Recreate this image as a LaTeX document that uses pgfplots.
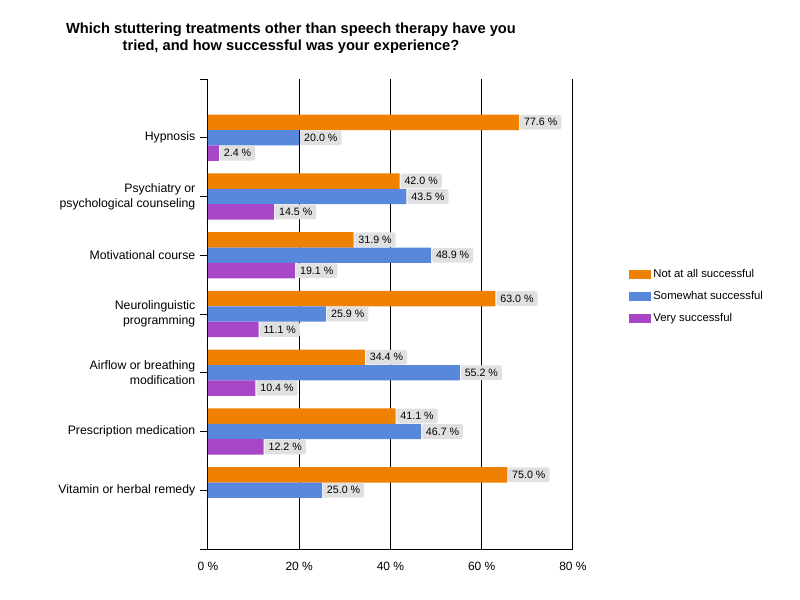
\documentclass[border=0pt]{standalone}
\usepackage{pgfplots}
\usepackage{pgfplotstable}
\pgfplotsset{compat=1.18}
\usepackage{fontspec}
\setmainfont{Liberation Sans}
\definecolor{cor}{RGB}{239,128,0}
\definecolor{cbl}{RGB}{88,136,220}
\definecolor{cpu}{RGB}{168,70,200}
\definecolor{lbl}{RGB}{224,224,224}

\pgfplotstableread{
y x lab
7 68.2 77.6
6 42.0 42.0
5 31.9 31.9
4 63.0 63.0
3 34.4 34.4
2 41.1 41.1
1 65.6 75.0
}\tnot
\pgfplotstableread{
y x lab
7 20.0 20.0
6 43.5 43.5
5 48.9 48.9
4 25.9 25.9
3 55.2 55.2
2 46.7 46.7
1 25.0 25.0
}\tsome
\pgfplotstableread{
y x lab
7 2.4 2.4
6 14.5 14.5
5 19.1 19.1
4 11.1 11.1
3 10.4 10.4
2 12.2 12.2
}\tvery

\begin{document}
\begin{tikzpicture}
\useasboundingbox (0,0) rectangle (600pt,450pt);
\node[align=center, font=\bfseries\fontsize{11}{12.75}\selectfont] at (218.25pt,421.4pt)
  {Which stuttering treatments other than speech therapy have you\\tried, and how successful was your experience?};
\begin{axis}[
  at={(156pt,38.25pt)}, anchor=south west,
  scale only axis, width=273.75pt, height=352.5pt,
  xmin=0, xmax=80, ymin=0, ymax=8,
  xbar,
  axis lines*=left,
  axis line style={black, line width=0.75pt},
  xtick={0,20,40,60,80},
  xticklabels={0 \%,20 \%,40 \%,60 \%,80 \%},
  ytick={1,2,3,4,5,6,7},
  yticklabels={Vitamin or herbal remedy, Prescription medication, {Airflow or breathing\\modification}, {Neurolinguistic\\programming}, Motivational course, {Psychiatry or\\psychological counseling}, Hypnosis},
  yticklabel style={align=right, font=\fontsize{9.2}{11.25}\selectfont},
  xticklabel style={font=\fontsize{9}{11}\selectfont},
  extra y ticks={0,8}, extra y tick labels={},
  tick align=outside, major tick length=6pt,
  ytick style={black, line width=0.75pt},
  xtick style={draw=none},
  xmajorgrids, major grid style={black, line width=0.75pt},
  point meta=explicit symbolic,
  nodes near coords={\pgfplotspointmeta{} \%},
  nodes near coords style={anchor=west, fill=lbl, rounded corners=1.5pt, inner xsep=3pt, inner ysep=2.5pt, minimum height=11pt, font=\fontsize{8}{9}\selectfont, xshift=0.5pt},
  legend style={at={(1.152,0.6015)}, anchor=north west, draw=none, fill=none, font=\fontsize{8.5}{10}\selectfont, row sep=5pt, inner sep=0pt},
  legend cell align=left,
  legend image code/.code={\fill[#1] (0pt,-3.4pt) rectangle (16.5pt,3.4pt);},
]
\addplot[bar width=11.6pt, bar shift=11.6pt, fill=cor, draw=none] table[x=x, y=y, meta=lab] {\tnot};
\addplot[bar width=11.6pt, bar shift=0pt, fill=cbl, draw=none] table[x=x, y=y, meta=lab] {\tsome};
\addplot[bar width=11.6pt, bar shift=-11.6pt, fill=cpu, draw=none] table[x=x, y=y, meta=lab] {\tvery};
\legend{Not at all successful, Somewhat successful, Very successful}
\end{axis}
\end{tikzpicture}
\end{document}
